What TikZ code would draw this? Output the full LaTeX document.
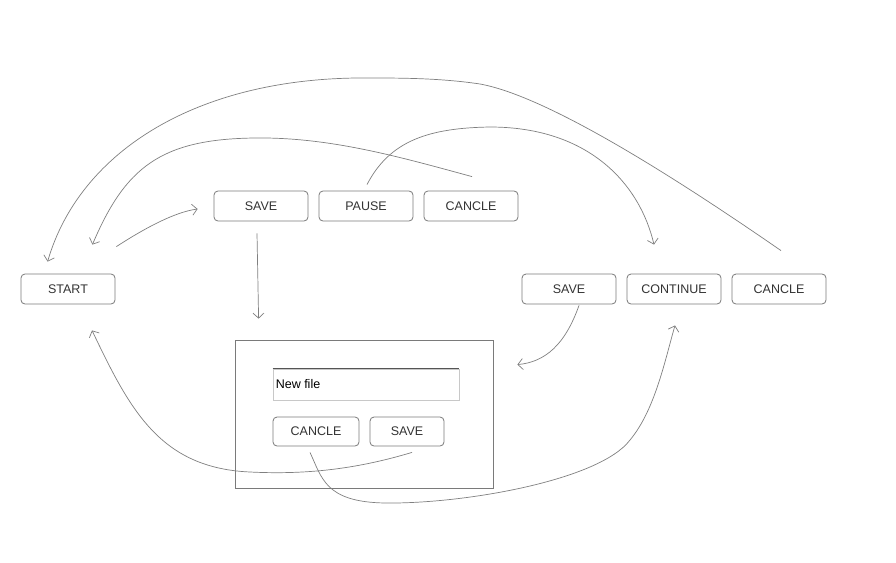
\documentclass[tikz,border=0pt]{standalone}
\usepackage{fontspec}
\setmainfont{Liberation Sans}
\usetikzlibrary{arrows.meta}
\definecolor{edge}{HTML}{7A7A7A}
\definecolor{lineg}{HTML}{808080}
\definecolor{txt}{HTML}{333333}
\definecolor{lightb}{HTML}{C8C8C8}
\definecolor{darkb}{HTML}{555555}
\begin{document}
\begin{tikzpicture}[x=1pt,y=-1pt,
  btn/.style={draw=edge,line width=0.8pt,rounded corners=4pt,minimum width=94pt,minimum height=30pt,inner sep=0pt,text=txt,font=\fontsize{12.5}{15}\selectfont},
  dbtn/.style={btn,minimum width=86pt,minimum height=29pt},
  conn/.style={draw=lineg,line width=0.7pt,-{Straight Barb[length=5pt,width=11pt]}},
  plain/.style={draw=lineg,line width=0.7pt}]
\useasboundingbox[fill=white] (0,0) rectangle (896,562);
% nodes
\node[btn] (start) at (68,289) {START};
\node[btn] (savetop) at (261,206) {SAVE};
\node[btn] (pause) at (366,206) {PAUSE};
\node[btn] (cancletop) at (471,206) {CANCLE};
\node[btn] (saveright) at (569,289) {SAVE};
\node[btn] (continue) at (674,289) {CONTINUE};
\node[btn] (cancleright) at (779,289) {CANCLE};
\node[draw=edge,line width=0.8pt,minimum width=258pt,minimum height=148pt,inner sep=0pt] (dialog) at (364,414) {};
\node[draw=lightb,line width=0.8pt,minimum width=186pt,minimum height=31pt,inner sep=0pt] (input) at (366,384.5) {};
\draw[darkb,line width=0.9pt] (input.north west) -- (input.north east);
\node[anchor=west,inner sep=0pt,font=\fontsize{12.5}{15}\selectfont,text=black] (inputtext) at ([xshift=3pt]input.west) {New file};
\node[dbtn] (dcancle) at (316,431.5) {CANCLE};
\node[dbtn,minimum width=74pt] (dsave) at (407,431.5) {SAVE};
% connectors
\draw[conn] ([shift={(1,-27)}]start.north east) .. controls (145,228) and (175,212) .. ([shift={(-16,3)}]savetop.west);
\draw[conn] ([shift={(-4,12)}]savetop.south) -- ([shift={(24,-21)}]dialog.north west);
\draw[conn] ([shift={(1,-14)}]cancletop.north) .. controls (400,157) and (330,137) .. (255,138) .. controls (160,139) and (125,168) .. ([shift={(-23,-29)}]start.north east);
\draw[conn] ([shift={(2,-23)}]cancleright.north) .. controls (650,160) and (540,95) .. (480,84) .. controls (440,78) and (400,78) .. (370,78) .. controls (200,76) and (80,150) .. ([shift={(27,-12)}]start.north west);
\draw[conn] ([shift={(1,-6)}]pause.north) .. controls (390,140) and (430,128) .. (490,127) .. controls (590,127) and (640,185) .. ([shift={(-20,-29)}]continue.north);
\draw[conn] ([shift={(10,1)}]saveright.south) .. controls (565,345) and (545,362) .. ([shift={(24,25)}]dialog.north east);
\draw[conn] ([shift={(5,6)}]dsave.south) .. controls (360,468) and (310,475) .. (250,472) .. controls (160,468) and (130,410) .. ([shift={(24,26)}]start.south);
\draw[conn] ([shift={(-6,6)}]dcancle.south) .. controls (322,478) and (325,502) .. (385,503) .. controls (465,504) and (600,480) .. (630,440) .. controls (655,410) and (665,360) .. ([shift={(1,21)}]continue.south);
\end{tikzpicture}
\end{document}
